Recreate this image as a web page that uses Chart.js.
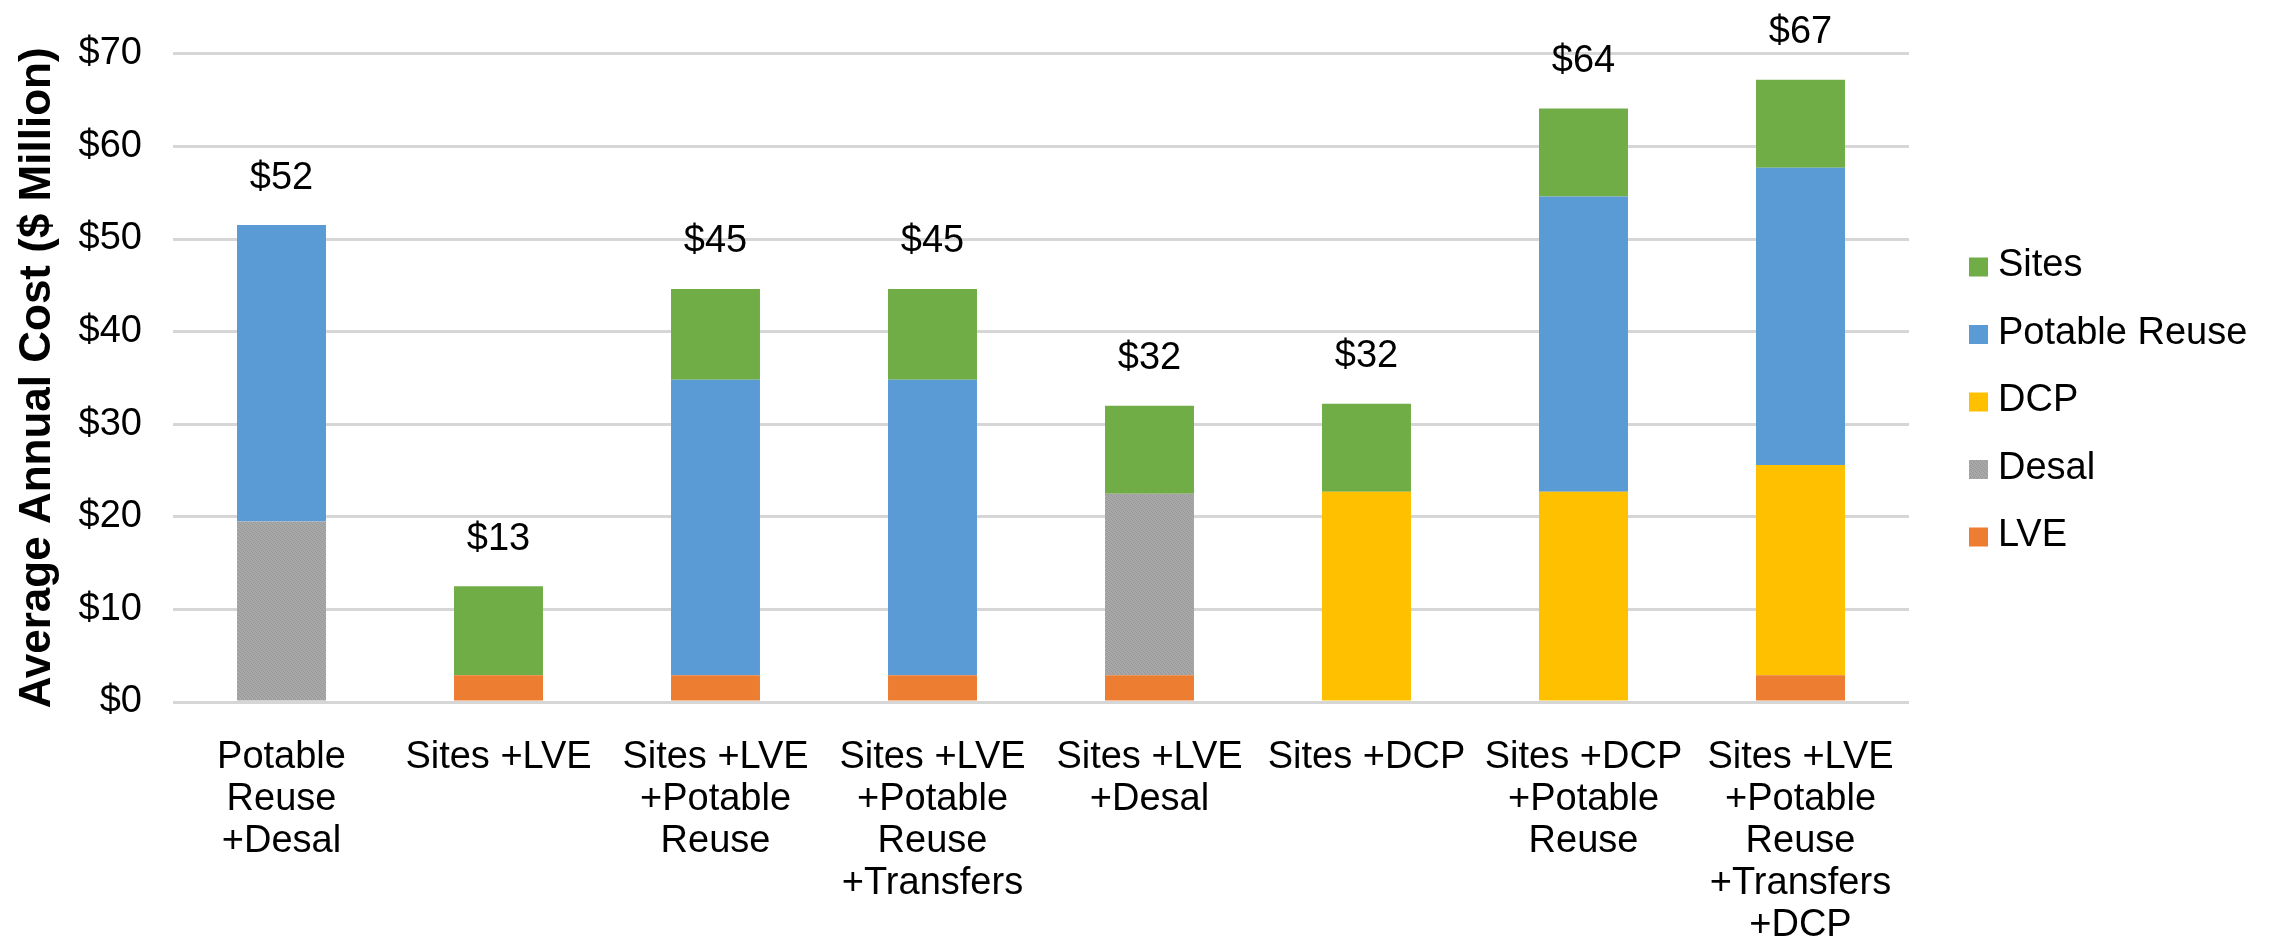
<!DOCTYPE html>
<html>
<head>
<meta charset="utf-8">
<script src="https://cdn.jsdelivr.net/npm/chart.js@4.4.1/dist/chart.umd.min.js"></script>
<style>
  body { margin: 0; background: #fff; }
  #wrap { width: 2274px; height: 939px; }
</style>
</head>
<body>
<div id="wrap"><canvas id="myChart" width="2274" height="939"></canvas></div>
<script>
// categories (multi-line tick labels)
const categories = [
  ["Potable", "Reuse", "+Desal"],
  ["Sites +LVE"],
  ["Sites +LVE", "+Potable", "Reuse"],
  ["Sites +LVE", "+Potable", "Reuse", "+Transfers"],
  ["Sites +LVE", "+Desal"],
  ["Sites +DCP"],
  ["Sites +DCP", "+Potable", "Reuse"],
  ["Sites +LVE", "+Potable", "Reuse", "+Transfers", "+DCP"],
];

// series values ($ million), stacked bottom -> top
const lve = [0, 2.9, 2.9, 2.9, 2.9, 0, 0, 2.9];
const desal = [19.5, 0, 0, 0, 19.6, 0, 0, 0];
const dcp = [0, 0, 0, 0, 0, 22.7, 22.7, 22.7];
const potableReuse = [32.0, 0, 31.9, 31.9, 0, 0, 31.9, 32.1];
const sites = [0, 9.6, 9.8, 9.8, 9.5, 9.5, 9.5, 9.5];

const yTicks = [0, 10, 20, 30, 40, 50, 60, 70];

const fontFamily = "'Liberation Sans', Arial, sans-serif";

// dithered gray like the excel fill
const makeDesalPattern = () => {
  const c = document.createElement("canvas");
  c.width = 4;
  c.height = 4;
  const g = c.getContext("2d");
  g.fillStyle = "#a8a8a8";
  g.fillRect(0, 0, 4, 4);
  g.fillStyle = "#969696";
  g.fillRect(0, 0, 1, 1);
  g.fillRect(2, 1, 1, 1);
  g.fillRect(1, 2, 1, 1);
  g.fillRect(3, 3, 1, 1);
  return g.createPattern(c, "repeat");
};
const desalFill = makeDesalPattern();

// total on top of each stack
const totalLabels = {
  id: "totalLabels",
  afterDatasetsDraw(chart) {
    const ctx = chart.ctx;
    const xScale = chart.scales.x;
    const yScale = chart.scales.y;
    ctx.save();
    ctx.font = `38px ${fontFamily}`;
    ctx.fillStyle = "#000";
    ctx.textAlign = "center";
    ctx.textBaseline = "middle";
    categories.forEach((c, i) => {
      let total = 0;
      chart.data.datasets.forEach((ds) => (total += ds.data[i]));
      total = Math.round(total * 10) / 10;
      const x = xScale.getPixelForValue(i);
      const y = Math.max(yScale.getPixelForValue(total) - 47, 26);
      ctx.fillText("$" + Math.round(total), x, y);
    });
    ctx.restore();
  },
};

// legend on the right, top series first
const sideLegend = {
  id: "sideLegend",
  afterDraw(chart) {
    const ctx = chart.ctx;
    const boxX = chart.chartArea.right + 60;
    let y = 267;
    ctx.save();
    ctx.font = `38px ${fontFamily}`;
    ctx.textBaseline = "middle";
    ctx.textAlign = "left";
    [...chart.data.datasets].reverse().forEach((ds) => {
      ctx.fillStyle = ds.backgroundColor;
      ctx.fillRect(boxX, y - 9.5, 19, 19);
      ctx.fillStyle = "#000";
      ctx.fillText(ds.label, boxX + 29, y - 1);
      y += 67.5;
    });
    ctx.restore();
  },
};

const ctx = document.querySelector("#myChart").getContext("2d");
const myChart = new Chart(ctx, {
  type: "bar",
  data: {
    labels: categories,
    datasets: [
      { label: "LVE", data: lve, backgroundColor: "#ed7d31" },
      { label: "Desal", data: desal, backgroundColor: desalFill },
      { label: "DCP", data: dcp, backgroundColor: "#ffc000" },
      { label: "Potable Reuse", data: potableReuse, backgroundColor: "#5b9bd5" },
      { label: "Sites", data: sites, backgroundColor: "#70ad47" },
    ],
  },
  options: {
    responsive: false,
    animation: false,
    devicePixelRatio: 1,
    layout: { padding: { top: 39, right: 365, bottom: 0, left: 0 } },
    datasets: { bar: { barPercentage: 0.41, categoryPercentage: 1 } },
    plugins: {
      legend: { display: false },
      tooltip: { enabled: false },
    },
    scales: {
      x: {
        stacked: true,
        grid: { display: false },
        border: { display: false },
        ticks: {
          autoSkip: false,
          maxRotation: 0,
          padding: 27,
          color: "#000",
          font: { family: fontFamily, size: 38, lineHeight: 1.1 },
        },
        afterFit: (scale) => {
          scale.height = 237;
        },
      },
      y: {
        stacked: true,
        min: 0,
        max: 70,
        afterBuildTicks: (scale) => {
          scale.ticks = yTicks.map((v) => ({ value: v }));
        },
        grid: { color: "#d6d6d6", lineWidth: 3, drawTicks: false },
        border: { display: false },
        ticks: {
          padding: 31,
          color: "#000",
          font: { family: fontFamily, size: 38 },
          callback: (v) => "$" + v,
        },
        title: {
          display: true,
          text: "Average Annual Cost ($ Million)",
          color: "#000",
          padding: { top: 11, bottom: 0 },
          font: { family: fontFamily, size: 44, weight: "bold", lineHeight: 1.2 },
        },
        afterFit: (scale) => {
          scale.width = 173;
        },
      },
    },
  },
  plugins: [totalLabels, sideLegend],
});
</script>
</body>
</html>
